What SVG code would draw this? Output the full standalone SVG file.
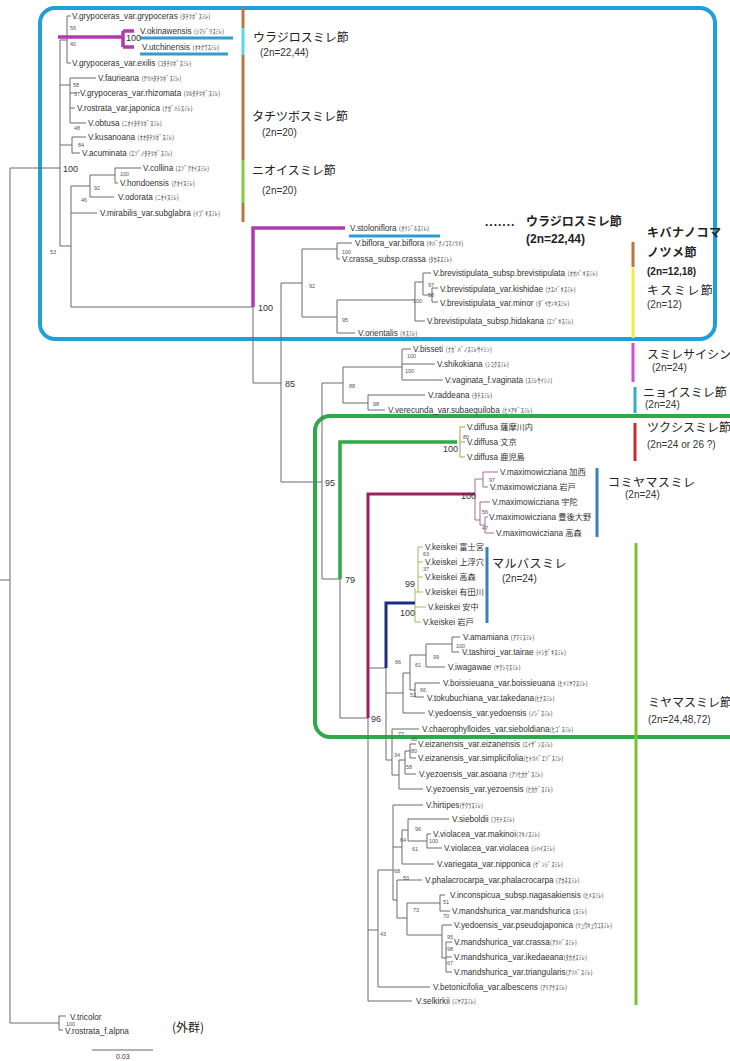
<svg xmlns="http://www.w3.org/2000/svg" width="730" height="1061" viewBox="0 0 730 1061">
<style>
.t{fill:none;stroke:#6a6a6a;stroke-width:1}
.sp{font-family:"Liberation Sans","Noto Sans CJK JP",sans-serif;font-size:8.2px;fill:#333}
.k{font-family:"Noto Sans CJK JP",sans-serif;font-size:6.5px;fill:#444}
.bs{font-family:"Liberation Sans",sans-serif;font-size:5.5px;fill:#555}
.bm{font-family:"Liberation Sans",sans-serif;font-size:9px;fill:#333}
.sec{font-family:"Noto Sans CJK JP",sans-serif;font-size:12px;fill:#222}
.cn{font-family:"Liberation Sans",sans-serif;font-size:10px;fill:#333}
.bar{fill:none;stroke-width:3}
</style>
<rect width="730" height="1061" fill="#fff"/>

<g id="boxes" fill="none">
<rect x="40" y="8" width="675" height="331" rx="15" stroke="#1ea0d8" stroke-width="4"/>
<rect x="315" y="416" width="430" height="321" rx="15" stroke="#2eaa48" stroke-width="4"/>
</g>

<g id="connectors">
<path class="t" d="M0,580H10M10,168V1023M10,168H60M10,1023H59M59,1016V1030M59,1016H66M59,1030H63
M60,40V246M60,40H67M67,16V63M67,16H71M67,63H71M60,85H70M70,78V123M70,78H96M70,93H77M70,108H75M70,123H86
M60,145H72M72,137V153M72,137H86M72,153H80M60,246H71M71,186V307M71,186H90M90,175V197M90,175H115M115,168V183M115,168H141M115,183H118M90,197H114M71,213H97M71,307H253
M253,307V383H281M281,283V482M281,283H302M302,249V317M302,249H337M337,243V259M337,243H352M337,259H340M302,317H337M337,300V333M337,300H415M415,282V321M415,282H423M423,273V295M423,273H431M423,295H432M432,288V302M432,288H438M432,302H438M415,321H425M337,333H355
M281,482H322M322,383V579M322,383H343M343,367V403M343,367H402M402,349V380M402,349H411M402,364H435M402,380H443M343,403H368M368,395V410M368,395H425M368,410H385M322,579H340
M340,579V718H368M368,718V1001H412
M368,668H386M386,668V760M386,693H403M403,673V713M403,673H410M410,655V690M410,655H426M426,644V667M426,644H452M452,637V652M452,637H460M452,652H459M426,667H445M410,690H415M415,683V697M415,683H440M415,697H424M403,713H425
M386,760H392M392,729V775M392,729H419M392,775H399M399,760V789M399,760H405M399,789H423M405,751V774M405,751H410M405,774H416M410,744V758M410,744H416M410,758H416
M368,930H378M378,870V987M378,987H430M378,870H393M393,805V900M393,805H423M393,847H402M402,830V864M402,830H408M402,864H434M408,819V841M408,819H449M408,841H427M427,834V848M427,834H431M427,848H442
M393,900H397M397,880V918M397,880H422M397,918H407M407,903V935M407,903H440M440,895V911M440,895H445M440,911H450M407,935H442M442,925V958M442,925H452M442,958H446M446,942V972M446,942H452M446,957H452M446,972H452"/>
<path fill="none" stroke="#a9a03a" stroke-width="1" d="M460,427V457M460,427H465M460,442H465M460,457H465"/>
<path fill="none" stroke="#9cc060" stroke-width="1" d="M418,547V592M415,588V622M418,547H423M418,562H423M418,577H423M415,592H423M415,607H426M415,622H421"/>
<path fill="none" stroke="#a86a98" stroke-width="1" d="M475,479V520M475,479H483M483,472V487M483,472H498M483,487H488M475,520H480M480,502V525M480,502H490M480,525H485M485,517V533M485,517H488M485,533H494"/>
<path fill="none" stroke="#b03ab0" stroke-width="3.5" d="M58,37H123M123,31V47M123,31H134M123,47H134M253,307V228H345"/>
<path fill="none" stroke="#2e9ed0" stroke-width="3" d="M140,38H233M140,54H228M349,236H440"/>
<path fill="none" stroke="#2eaa48" stroke-width="3.5" d="M340,579V442H457"/>
<path fill="none" stroke="#a01e5a" stroke-width="3" d="M368,718V494H475"/>
<path fill="none" stroke="#1c2c84" stroke-width="3" d="M415,603H386V668"/>
<path fill="none" stroke="#666" stroke-width="1" d="M92,1050H153"/>
</g>

<g id="bars">
<path class="bar" stroke="#b87840" d="M243,8V28M243,55V160M243,203V222M633,242V267"/>
<path class="bar" stroke="#5ad8e6" d="M243,28V55"/>
<path class="bar" stroke="#8cc840" d="M243,160V203"/>
<path class="bar" stroke="#f2ee40" d="M633,268V338"/>
<path class="bar" stroke="#d050d0" d="M633,343V382"/>
<path class="bar" stroke="#30b0c0" d="M635,387V413"/>
<path class="bar" stroke="#c03030" d="M635,423V461"/>
<path class="bar" stroke="#3a80b8" d="M597,468V537M487,547V623"/>
<path class="bar" stroke="#7cc030" d="M636,543V1005"/>
</g>

<g id="support">
<text class="bm" x="63" y="172">100</text>
<text class="bs" x="70" y="30">56</text><text class="bs" x="70" y="46">40</text>
<text class="bm" x="126" y="41" font-size="8">100</text>
<text class="bs" x="73" y="87">58</text><text class="bs" x="74" y="96">37</text>
<text class="bs" x="74" y="130">48</text><text class="bs" x="78" y="147">84</text>
<text class="bs" x="120" y="176">100</text><text class="bs" x="94" y="190">92</text><text class="bs" x="81" y="202">46</text>
<text class="bs" x="50" y="254">53</text>
<text class="bm" x="258" y="311">100</text>
<text class="bs" x="342" y="254">100</text><text class="bs" x="309" y="288">92</text><text class="bs" x="342" y="322">95</text>
<text class="bs" x="428" y="287">97</text><text class="bs" x="428" y="297">58</text><text class="bs" x="413" y="303">100</text>
<text class="bm" x="285" y="387">85</text>
<text class="bs" x="407" y="358">100</text><text class="bs" x="405" y="373">100</text>
<text class="bs" x="349" y="388">88</text><text class="bs" x="373" y="406">98</text>
<text class="bm" x="325" y="486">95</text>
<text class="bm" x="443" y="452">100</text><text class="bs" x="463" y="439" fill="#a9a03a">80</text>
<text class="bm" x="461" y="499">100</text>
<text class="bs" x="489" y="482" fill="#a86a98">97</text><text class="bs" x="482" y="514" fill="#a86a98">56</text><text class="bs" x="482" y="530" fill="#a86a98">47</text>
<text class="bm" x="345" y="583">79</text>
<text class="bm" x="405" y="587">99</text><text class="bm" x="400" y="616">100</text>
<text class="bs" x="423" y="556" fill="#9cc060">63</text><text class="bs" x="423" y="571" fill="#9cc060">37</text>
<text class="bm" x="371" y="722">96</text>
<text class="bs" x="456" y="648">100</text><text class="bs" x="433" y="659">99</text><text class="bs" x="415" y="667">61</text>
<text class="bs" x="395" y="664">66</text><text class="bs" x="420" y="692">66</text><text class="bs" x="410" y="697">52</text>
<text class="bs" x="398" y="736">77</text><text class="bs" x="411" y="741">88</text><text class="bs" x="411" y="753">80</text>
<text class="bs" x="406" y="769">58</text><text class="bs" x="394" y="757">34</text>
<text class="bs" x="415" y="831">96</text><text class="bs" x="429" y="843">100</text><text class="bs" x="400" y="842">64</text>
<text class="bs" x="412" y="851">61</text><text class="bs" x="394" y="873">68</text><text class="bs" x="403" y="880">50</text>
<text class="bs" x="413" y="912">73</text><text class="bs" x="443" y="904">51</text><text class="bs" x="443" y="918">70</text>
<text class="bs" x="380" y="936">43</text><text class="bs" x="447" y="939">95</text><text class="bs" x="447" y="951">98</text><text class="bs" x="447" y="965">67</text>
<text class="bs" x="66" y="1026">100</text>
</g>

<g id="taxa-top">
<g id="n-grypoceras"><text class="sp" x="72" y="19">V.grypoceras_var.grypoceras <tspan class="k">(ﾀﾁﾂﾎﾞｽﾐﾚ)</tspan></text></g>
<g id="n-okinawensis"><text class="sp" x="140" y="34">V.okinawensis <tspan class="k">(ｼﾏｼﾞﾘｽﾐﾚ)</tspan></text></g>
<g id="n-utchinensis"><text class="sp" x="142" y="50">V.utchinensis <tspan class="k">(ｵｷﾅﾜｽﾐﾚ)</tspan></text></g>
<g id="n-exilis"><text class="sp" x="72" y="66">V.grypoceras_var.exilis <tspan class="k">(ｺﾀﾁﾂﾎﾞｽﾐﾚ)</tspan></text></g>
<g id="n-faurieana"><text class="sp" x="98" y="81">V.faurieana <tspan class="k">(ﾃﾘﾊﾀﾁﾂﾎﾞｽﾐﾚ)</tspan></text></g>
<g id="n-rhizomata"><text class="sp" x="80" y="96">V.grypoceras_var.rhizomata <tspan class="k">(ﾂﾙﾀﾁﾂﾎﾞｽﾐﾚ)</tspan></text></g>
<g id="n-japonica"><text class="sp" x="77" y="111">V.rostrata_var.japonica <tspan class="k">(ﾅｶﾞﾊｼｽﾐﾚ)</tspan></text></g>
<g id="n-obtusa"><text class="sp" x="88" y="126">V.obtusa <tspan class="k">(ﾆｵｲﾀﾁﾂﾎﾞｽﾐﾚ)</tspan></text></g>
<g id="n-kusanoana"><text class="sp" x="88" y="140">V.kusanoana <tspan class="k">(ｵｵﾀﾁﾂﾎﾞｽﾐﾚ)</tspan></text></g>
<g id="n-acuminata"><text class="sp" x="82" y="156">V.acuminata <tspan class="k">(ｴｿﾞﾉﾀﾁﾂﾎﾞｽﾐﾚ)</tspan></text></g>
<g id="n-collina"><text class="sp" x="143" y="171">V.collina <tspan class="k">(ｴｿﾞｱｵｲｽﾐﾚ)</tspan></text></g>
<g id="n-hondoensis"><text class="sp" x="120" y="186">V.hondoensis <tspan class="k">(ｱｵｲｽﾐﾚ)</tspan></text></g>
<g id="n-odorata"><text class="sp" x="118" y="200">V.odorata <tspan class="k">(ﾆｵｲｽﾐﾚ)</tspan></text></g>
<g id="n-mirabilis"><text class="sp" x="100" y="216">V.mirabilis_var.subglabra <tspan class="k">(ｲﾌﾞｷｽﾐﾚ)</tspan></text></g>
<g id="n-stoloniflora"><text class="sp" x="350" y="231">V.stoloniflora <tspan class="k">(ｵﾘｼﾞﾙｽﾐﾚ)</tspan></text></g>
<g id="n-biflora"><text class="sp" x="355" y="246">V.biflora_var.biflora <tspan class="k">(ｷﾊﾞﾅﾉｺﾏﾉﾂﾒ)</tspan></text></g>
<g id="n-crassa"><text class="sp" x="342" y="262">V.crassa_subsp.crassa <tspan class="k">(ﾀｶﾈｽﾐﾚ)</tspan></text></g>
<g id="n-brevistipulata"><text class="sp" x="433" y="276">V.brevistipulata_subsp.brevistipulata <tspan class="k">(ｵｵﾊﾞｷｽﾐﾚ)</tspan></text></g>
<g id="n-kishidae"><text class="sp" x="440" y="292">V.brevistipulata_var.kishidae <tspan class="k">(ﾅｴﾊﾞｷｽﾐﾚ)</tspan></text></g>
<g id="n-minor"><text class="sp" x="440" y="306">V.brevistipulata_var.minor <tspan class="k">(ﾀﾞｲｾﾝｷｽﾐﾚ)</tspan></text></g>
<g id="n-hidakana"><text class="sp" x="427" y="324">V.brevistipulata_subsp.hidakana <tspan class="k">(ｴｿﾞｷｽﾐﾚ)</tspan></text></g>
<g id="n-orientalis"><text class="sp" x="358" y="336">V.orientalis <tspan class="k">(ｷｽﾐﾚ)</tspan></text></g>
</g>

<g id="taxa-mid">
<g id="n-bisseti"><text class="sp" x="413" y="352">V.bisseti <tspan class="k">(ﾅｶﾞﾊﾞﾉｽﾐﾚｻｲｼﾝ)</tspan></text></g>
<g id="n-shikokiana"><text class="sp" x="437" y="367">V.shikokiana <tspan class="k">(ｼｺｸｽﾐﾚ)</tspan></text></g>
<g id="n-vaginata"><text class="sp" x="445" y="383">V.vaginata_f.vaginata <tspan class="k">(ｽﾐﾚｻｲｼﾝ)</tspan></text></g>
<g id="n-raddeana"><text class="sp" x="428" y="398">V.raddeana <tspan class="k">(ﾀﾁｽﾐﾚ)</tspan></text></g>
<g id="n-verecunda"><text class="sp" x="388" y="413">V.verecunda_var.subaequiloba <tspan class="k">(ﾋﾒｱｷﾞｽﾐﾚ)</tspan></text></g>
<g id="n-diffusa1"><text class="sp" x="467" y="430">V.diffusa 薩摩川内</text></g>
<g id="n-diffusa2"><text class="sp" x="467" y="445">V.diffusa 文京</text></g>
<g id="n-diffusa3"><text class="sp" x="467" y="460">V.diffusa 鹿児島</text></g>
<g id="n-maxi1"><text class="sp" x="500" y="475">V.maximowicziana 加西</text></g>
<g id="n-maxi2"><text class="sp" x="490" y="490">V.maximowicziana 岩戸</text></g>
<g id="n-maxi3"><text class="sp" x="492" y="505">V.maximowicziana 宇陀</text></g>
<g id="n-maxi4"><text class="sp" x="489" y="520">V.maximowicziana 豊後大野</text></g>
<g id="n-maxi5"><text class="sp" x="496" y="536">V.maximowicziana 高森</text></g>
<g id="n-keiskei1"><text class="sp" x="425" y="550">V.keiskei 富士宮</text></g>
<g id="n-keiskei2"><text class="sp" x="425" y="565">V.keiskei 上浮穴</text></g>
<g id="n-keiskei3"><text class="sp" x="425" y="580">V.keiskei 高森</text></g>
<g id="n-keiskei4"><text class="sp" x="425" y="595">V.keiskei 有田川</text></g>
<g id="n-keiskei5"><text class="sp" x="428" y="610">V.keiskei 安中</text></g>
<g id="n-keiskei6"><text class="sp" x="423" y="625">V.keiskei 岩戸</text></g>
</g>

<g id="taxa-low">
<g id="n-amamiana"><text class="sp" x="463" y="640">V.amamiana <tspan class="k">(ｱﾏﾐｽﾐﾚ)</tspan></text></g>
<g id="n-tashiroi"><text class="sp" x="462" y="655">V.tashiroi_var.tairae <tspan class="k">(ｲｼｶﾞｷｽﾐﾚ)</tspan></text></g>
<g id="n-iwagawae"><text class="sp" x="448" y="670">V.iwagawae <tspan class="k">(ﾔｸｼﾏｽﾐﾚ)</tspan></text></g>
<g id="n-boissieuana"><text class="sp" x="443" y="686">V.boissieuana_var.boissieuana <tspan class="k">(ﾋﾒﾐﾔﾏｽﾐﾚ)</tspan></text></g>
<g id="n-tokubuchiana"><text class="sp" x="427" y="701">V.tokubuchiana_var.takedana<tspan class="k">(ﾋﾅｽﾐﾚ)</tspan></text></g>
<g id="n-yedoensis"><text class="sp" x="428" y="716">V.yedoensis_var.yedoensis <tspan class="k">(ﾉｼﾞｽﾐﾚ)</tspan></text></g>
<g id="n-chaerophylloides"><text class="sp" x="422" y="732">V.chaerophylloides_var.sieboldiana<tspan class="k">(ﾋｺﾞｽﾐﾚ)</tspan></text></g>
<g id="n-eizanensis"><text class="sp" x="418" y="747">V.eizanensis_var.eizanensis <tspan class="k">(ｴｲｻﾞﾝｽﾐﾚ)</tspan></text></g>
<g id="n-simplicifolia"><text class="sp" x="418" y="761">V.eizanensis_var.simplicifolia<tspan class="k">(ﾋﾄﾂﾊﾞｴｿﾞｽﾐﾚ)</tspan></text></g>
<g id="n-asoana"><text class="sp" x="419" y="777">V.yezoensis_var.asoana <tspan class="k">(ｱｿﾋｶｹﾞｽﾐﾚ)</tspan></text></g>
<g id="n-yezoensis"><text class="sp" x="426" y="792">V.yezoensis_var.yezoensis <tspan class="k">(ﾋｶｹﾞｽﾐﾚ)</tspan></text></g>
<g id="n-hirtipes"><text class="sp" x="426" y="808">V.hirtipes<tspan class="k">(ｻｸﾗｽﾐﾚ)</tspan></text></g>
<g id="n-sieboldii"><text class="sp" x="452" y="822">V.sieboldii <tspan class="k">(ﾌﾓﾄｽﾐﾚ)</tspan></text></g>
<g id="n-makinoi"><text class="sp" x="433" y="837">V.violacea_var.makinoi<tspan class="k">(ﾏｷﾉｽﾐﾚ)</tspan></text></g>
<g id="n-violacea"><text class="sp" x="444" y="851">V.violacea_var.violacea <tspan class="k">(ｼﾊｲｽﾐﾚ)</tspan></text></g>
<g id="n-variegata"><text class="sp" x="437" y="867">V.variegata_var.nipponica <tspan class="k">(ｹﾞﾝｼﾞｽﾐﾚ)</tspan></text></g>
<g id="n-phalacrocarpa"><text class="sp" x="425" y="883">V.phalacrocarpa_var.phalacrocarpa <tspan class="k">(ｱｶﾈｽﾐﾚ)</tspan></text></g>
<g id="n-inconspicua"><text class="sp" x="450" y="898">V.inconspicua_subsp.nagasakiensis <tspan class="k">(ﾋﾒｽﾐﾚ)</tspan></text></g>
<g id="n-mandshurica"><text class="sp" x="452" y="914">V.mandshurica_var.mandshurica <tspan class="k">(ｽﾐﾚ)</tspan></text></g>
<g id="n-pseudojaponica"><text class="sp" x="454" y="928">V.yedoensis_var.pseudojaponica <tspan class="k">(ﾘｭｳｷｭｳｺｽﾐﾚ)</tspan></text></g>
<g id="n-crassa2"><text class="sp" x="454" y="945">V.mandshurica_var.crassa<tspan class="k">(ｱﾂﾊﾞｽﾐﾚ)</tspan></text></g>
<g id="n-ikedaeana"><text class="sp" x="454" y="960">V.mandshurica_var.ikedaeana<tspan class="k">(ﾀｶｵｽﾐﾚ)</tspan></text></g>
<g id="n-triangularis"><text class="sp" x="454" y="975">V.mandshurica_var.triangularis<tspan class="k">(ｱｿﾊﾞｽﾐﾚ)</tspan></text></g>
<g id="n-betonicifolia"><text class="sp" x="433" y="990">V.betonicifolia_var.albescens <tspan class="k">(ｱﾘｱｹｽﾐﾚ)</tspan></text></g>
<g id="n-selkirkii"><text class="sp" x="416" y="1004">V.selkirkii <tspan class="k">(ﾐﾔﾏｽﾐﾚ)</tspan></text></g>
<g id="n-tricolor"><text class="sp" x="70" y="1020">V.tricolor</text></g>
<g id="n-alpna"><text class="sp" x="65" y="1034">V.rostrata_f.alpna</text></g>
</g>

<g id="sections">
<g id="s-urajiro"><text class="sec" x="253" y="42">ウラジロスミレ節</text><text class="cn" x="260" y="56">(2n=22,44)</text></g>
<g id="s-tachitsubo"><text class="sec" x="252" y="121">タチツボスミレ節</text><text class="cn" x="262" y="136">(2n=20)</text></g>
<g id="s-nioi"><text class="sec" x="252" y="175">ニオイスミレ節</text><text class="cn" x="262" y="194">(2n=20)</text></g>
<g id="s-urajiro2"><text x="485" y="226" font-family="Liberation Sans,sans-serif" font-size="12" font-weight="bold" fill="#222" letter-spacing="1">.......</text><text class="sec" x="526" y="226" font-size="11" font-weight="bold">ウラジロスミレ節</text><text x="526" y="243" font-family="Liberation Sans,sans-serif" font-size="12" font-weight="bold" fill="#222">(2n=22,44)</text></g>
<g id="s-kibana"><text class="sec" x="647" y="237" font-size="10" font-weight="bold" letter-spacing="0.5">キバナノコマ</text><text class="sec" x="647" y="257" font-size="10" font-weight="bold" letter-spacing="0.5">ノツメ節</text><text x="647" y="275" font-family="Liberation Sans,sans-serif" font-size="10" font-weight="bold" fill="#222">(2n=12,18)</text></g>
<g id="s-kisumire"><text class="sec" x="647" y="295" font-size="13" letter-spacing="1.5">キスミレ節</text><text class="cn" x="647" y="308">(2n=12)</text></g>
<g id="s-saishin"><text class="sec" x="647" y="359" font-size="11.5">スミレサイシン</text><text class="cn" x="652" y="371">(2n=24)</text></g>
<g id="s-nyoi"><text class="sec" x="643" y="397" font-size="11.5">ニョイスミレ節</text><text class="cn" x="645" y="408">(2n=24)</text></g>
<g id="s-tsukushi"><text class="sec" x="647" y="432" font-size="11.5">ツクシスミレ節</text><text class="cn" x="647" y="448">(2n=24 or 26 ?)</text></g>
<g id="s-komiyama"><text class="sec" x="608" y="487" font-size="11" letter-spacing="0.5">コミヤマスミレ</text><text class="cn" x="625" y="498">(2n=24)</text></g>
<g id="s-maruba"><text class="sec" x="492" y="568" font-size="11" letter-spacing="0.5">マルバスミレ</text><text class="cn" x="502" y="582">(2n=24)</text></g>
<g id="s-miyama"><text class="sec" x="648" y="707" font-size="11.5">ミヤマスミレ節</text><text class="cn" x="648" y="723">(2n=24,48,72)</text></g>
<g id="s-outgroup"><text class="sec" x="172" y="1032">(外群)</text></g>
<g id="scale"><text x="116" y="1059" font-family="Liberation Sans,sans-serif" font-size="7" fill="#333">0.03</text></g>
</g>
</svg>
